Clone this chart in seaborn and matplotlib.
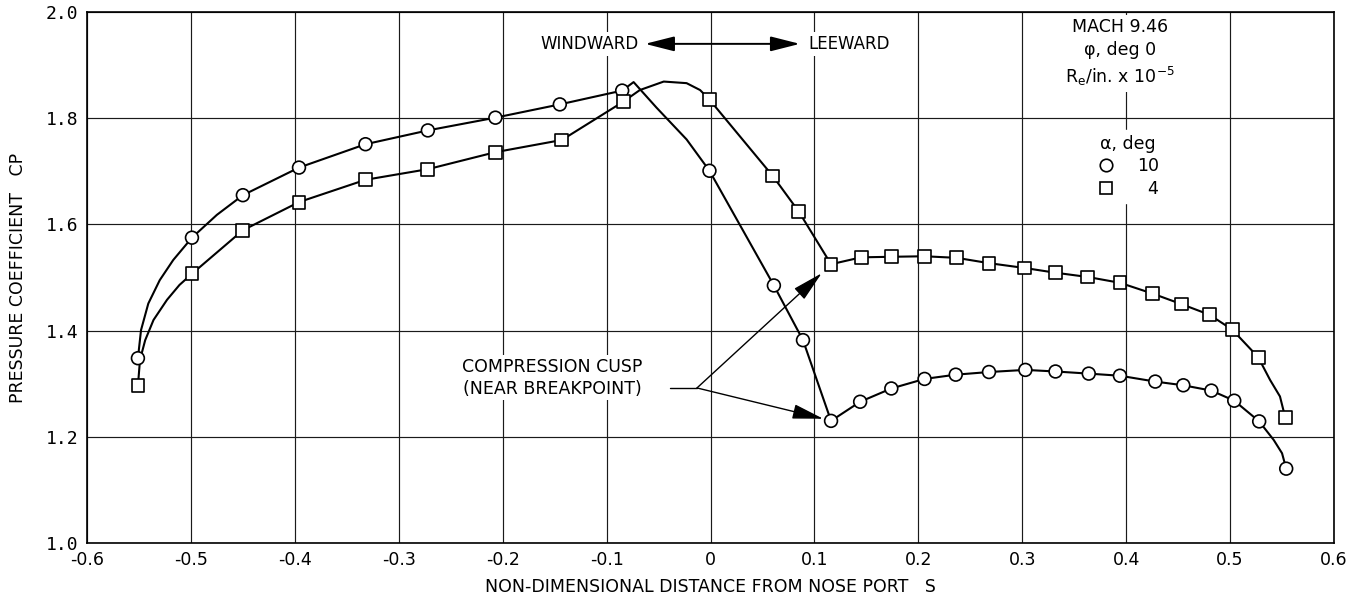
import matplotlib
matplotlib.use("Agg")
import matplotlib.pyplot as plt
import seaborn as sns
import pandas as pd
from matplotlib.lines import Line2D

# ---------------- data ----------------
# alpha = 10 deg (circles)
S_10 = [-0.551, -0.499, -0.450, -0.396, -0.332, -0.272, -0.207, -0.145, -0.085,
        -0.001, 0.061, 0.089, 0.116, 0.144, 0.174, 0.206, 0.236, 0.268, 0.303,
        0.332, 0.364, 0.394, 0.428, 0.455, 0.482, 0.504, 0.528, 0.554]
CP_10 = [1.348, 1.575, 1.655, 1.707, 1.751, 1.777, 1.801, 1.826, 1.852,
         1.701, 1.485, 1.382, 1.230, 1.266, 1.291, 1.309, 1.317, 1.322, 1.326,
         1.323, 1.319, 1.315, 1.304, 1.297, 1.287, 1.268, 1.229, 1.140]
# alpha = 4 deg (squares)
S_4 = [-0.551, -0.499, -0.450, -0.396, -0.332, -0.272, -0.207, -0.143, -0.084,
       -0.001, 0.060, 0.085, 0.116, 0.145, 0.174, 0.206, 0.237, 0.268, 0.302,
       0.332, 0.363, 0.394, 0.425, 0.453, 0.480, 0.502, 0.527, 0.553]
CP_4 = [1.296, 1.507, 1.589, 1.642, 1.684, 1.704, 1.736, 1.759, 1.831,
        1.835, 1.691, 1.624, 1.525, 1.538, 1.539, 1.540, 1.537, 1.527, 1.518,
        1.509, 1.501, 1.490, 1.470, 1.450, 1.430, 1.402, 1.350, 1.237]

# extra points (no markers there)
FAIR_S_10 = [-0.548, -0.541, -0.530, -0.517, -0.475, -0.074, -0.052, -0.023, 0.542, 0.550]
FAIR_CP_10 = [1.401, 1.451, 1.495, 1.533, 1.618, 1.868, 1.820, 1.760, 1.194, 1.169]
FAIR_S_4 = [-0.549, -0.544, -0.536, -0.523, -0.511, -0.068, -0.045, -0.023, -0.010, 0.5385, 0.548]
FAIR_CP_4 = [1.345, 1.382, 1.420, 1.458, 1.486, 1.853, 1.869, 1.866, 1.853, 1.307, 1.276]

ALPHA_LABELS = ["10", "4"]
X_TICKS = [-0.6, -0.5, -0.4, -0.3, -0.2, -0.1, 0.0, 0.1, 0.2, 0.3, 0.4, 0.5, 0.6]
X_TICK_LABELS = ["-0.6", "-0.5", "-0.4", "-0.3", "-0.2", "-0.1", "0",
                 "0.1", "0.2", "0.3", "0.4", "0.5", "0.6"]
Y_TICKS = [1.0, 1.2, 1.4, 1.6, 1.8, 2.0]
Y_TICK_LABELS = ["1.0", "1.2", "1.4", "1.6", "1.8", "2.0"]

# annotation anchor positions (data coordinates)
WIND_Y = 1.94
WIND_ARROW = (-0.063, 0.086)
CUSP_TEXT_XY = (-0.152, 1.311)
CUSP_LEADER = (-0.039, -0.013, 1.292)
CUSP_TIPS = [(0.107, 1.508), (0.1085, 1.234)]

# ---------------- style ----------------
sns.set_theme(style="white")
plt.rcParams["font.family"] = ["DejaVu Sans"]
plt.rcParams["axes.unicode_minus"] = False
plt.rcParams["text.color"] = "black"
plt.rcParams["axes.labelcolor"] = "black"
plt.rcParams["xtick.color"] = "black"
plt.rcParams["ytick.color"] = "black"

fig = plt.figure(figsize=(13.5, 6), dpi=100)
ax = fig.add_axes([87 / 1350, 1 - 543 / 600, (1334 - 87) / 1350, (543 - 12) / 600])

pts = pd.DataFrame({
    "S": S_10 + S_4,
    "CP": CP_10 + CP_4,
    "alpha": [ALPHA_LABELS[0]] * len(S_10) + [ALPHA_LABELS[1]] * len(S_4),
})
curves = pd.DataFrame({
    "S": S_10 + FAIR_S_10 + S_4 + FAIR_S_4,
    "CP": CP_10 + FAIR_CP_10 + CP_4 + FAIR_CP_4,
    "alpha": [ALPHA_LABELS[0]] * (len(S_10) + len(FAIR_S_10))
             + [ALPHA_LABELS[1]] * (len(S_4) + len(FAIR_S_4)),
})

sns.lineplot(data=curves, x="S", y="CP", units="alpha", estimator=None, sort=True,
             color="black", lw=1.5, ax=ax, zorder=3, legend=False)
sns.scatterplot(data=pts, x="S", y="CP", style="alpha",
                markers={ALPHA_LABELS[0]: "o", ALPHA_LABELS[1]: "s"},
                s=85, color="white", edgecolor="black", linewidth=1.2,
                ax=ax, zorder=4, legend=False)

ax.set_xlim(-0.6, 0.6)
ax.set_ylim(1.0, 2.0)
ax.set_xticks(X_TICKS)
ax.set_xticklabels(X_TICK_LABELS, fontsize=12.5)
ax.set_yticks(Y_TICKS)
ax.set_yticklabels(Y_TICK_LABELS, fontsize=13, family="DejaVu Sans Mono")
ax.tick_params(axis="both", length=0, pad=6, colors="black")
ax.grid(True, color="#1a1a1a", lw=0.85)
ax.set_axisbelow(True)
for sp in ax.spines.values():
    sp.set_color("black")
    sp.set_linewidth(1.2)

ax.set_xlabel("NON-DIMENSIONAL DISTANCE FROM NOSE PORT   S", fontsize=12.5)
ax.set_ylabel("PRESSURE COEFFICIENT   CP", fontsize=12.5)
ax.xaxis.set_label_coords(0.5, -0.066)
ax.yaxis.set_label_coords(-0.048, 0.5)

white = dict(facecolor="white", edgecolor="none", pad=2)

# windward / leeward
ax.annotate("", xy=(WIND_ARROW[1], WIND_Y), xytext=(WIND_ARROW[0], WIND_Y),
            arrowprops=dict(arrowstyle="<|-|>,head_length=1.5,head_width=0.38",
                            color="black", lw=1.4, shrinkA=0, shrinkB=0), zorder=5)
ax.text(WIND_ARROW[0] - 0.006, WIND_Y, "WINDWARD", ha="right", va="center",
        fontsize=12, bbox=white, zorder=5)
ax.text(WIND_ARROW[1] + 0.008, WIND_Y, "LEEWARD", ha="left", va="center",
        fontsize=12, bbox=white, zorder=5)

# compression cusp
ax.text(CUSP_TEXT_XY[0], CUSP_TEXT_XY[1], "COMPRESSION CUSP\n(NEAR BREAKPOINT)",
        ha="center", va="center", fontsize=12.5, linespacing=1.25,
        bbox=white, zorder=5)
ax.plot([CUSP_LEADER[0], CUSP_LEADER[1]], [CUSP_LEADER[2], CUSP_LEADER[2]],
        color="black", lw=1.0, zorder=5)
for tip in CUSP_TIPS:
    ax.annotate("", xy=tip, xytext=(CUSP_LEADER[1], CUSP_LEADER[2]),
                arrowprops=dict(arrowstyle="-|>,head_length=1.6,head_width=0.38",
                                color="black", lw=1.0, shrinkA=0, shrinkB=0),
                zorder=5)

# condition block
ax.text(0.394, 1.989, "MACH 9.46\n\u03c6, deg 0\n$\\mathregular{R_e}$/in. x 10$^{-5}$",
        ha="center", va="top", fontsize=12.5, linespacing=1.35,
        bbox=dict(facecolor="white", edgecolor="none", pad=3), zorder=5)

# legend
handles = [Line2D([], [], marker=m, ls="none", mfc="white", mec="black", ms=9, mew=1.2)
           for m in ["o", "s"]]
leg = ax.legend(handles, [ALPHA_LABELS[0], "  " + ALPHA_LABELS[1]],
                title="\u03b1, deg", loc="upper left", bbox_to_anchor=(0.806, 0.778),
                fontsize=12.5, title_fontsize=12.5, frameon=True, fancybox=False,
                framealpha=1, edgecolor="white", facecolor="white",
                handlelength=1.0, handletextpad=1.3, labelspacing=0.25,
                borderpad=0.3, borderaxespad=0)
leg.set_zorder(6)
for t in leg.get_texts():
    t.set_color("black")
leg.get_title().set_color("black")

fig.savefig("out.png", dpi=100, facecolor="white")
